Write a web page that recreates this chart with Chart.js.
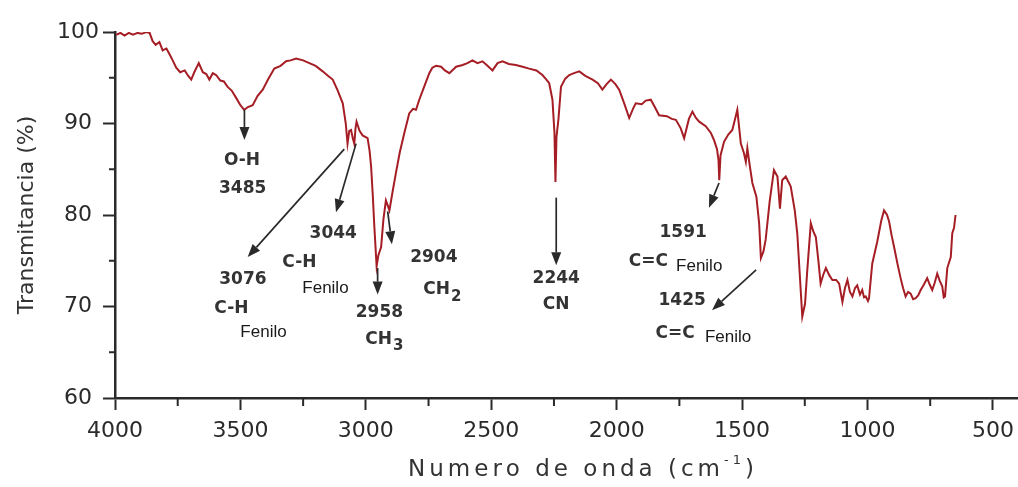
<!DOCTYPE html>
<html lang="es">
<head>
<meta charset="UTF-8">
<script src="https://cdn.jsdelivr.net/npm/chart.js"></script>
<title>Espectro IR</title>
<style>
  html, body { margin: 0; padding: 0; background: #fff; }
  #wrap { width: 1018px; height: 487px; }
</style>
</head>
<body>
<div id="wrap"><canvas id="irChart"></canvas></div>
<script>
// espectro (cm-1, %T)
const wavenumber = [3995, 3978, 3962, 3945, 3928, 3910, 3893, 3875, 3862, 3850, 3838, 3823, 3810, 3795, 3783, 3770, 3756, 3740, 3722, 3708,
  3696, 3684, 3666, 3650, 3636, 3624, 3610, 3597, 3580, 3566, 3551, 3535, 3517, 3500, 3485, 3470, 3451, 3432, 3411, 3390,
  3365, 3340, 3318, 3300, 3278, 3250, 3225, 3200, 3172, 3150, 3132, 3112, 3092, 3080, 3073, 3066, 3059, 3052, 3046, 3041,
  3037, 3025, 3013, 2993, 2985, 2979, 2972, 2966, 2957, 2950, 2939, 2930, 2920, 2912, 2906, 2893, 2880, 2865, 2847, 2827,
  2812, 2800, 2787, 2765, 2747, 2735, 2720, 2700, 2685, 2667, 2640, 2614, 2595, 2575, 2555, 2535, 2515, 2495, 2475, 2455,
  2430, 2402, 2375, 2349, 2320, 2296, 2280, 2269, 2256, 2248, 2244, 2240, 2232, 2222, 2205, 2189, 2170, 2149, 2125, 2096,
  2075, 2057, 2040, 2023, 2005, 1990, 1970, 1950, 1935, 1924, 1900, 1884, 1864, 1848, 1831, 1800, 1780, 1764, 1745, 1731,
  1712, 1698, 1684, 1671, 1645, 1625, 1612, 1600, 1594, 1591, 1586, 1572, 1555, 1539, 1528, 1519, 1505, 1493, 1485, 1479,
  1470, 1459, 1443, 1432, 1425, 1415, 1406, 1390, 1373, 1359, 1349, 1340, 1326, 1306, 1290, 1280, 1270, 1260, 1249, 1240,
  1226, 1216, 1206, 1195, 1187, 1176, 1166, 1152, 1140, 1125, 1113, 1106, 1100, 1090, 1080, 1070, 1060, 1050, 1041, 1030,
  1021, 1014, 1007, 998, 994, 981, 970, 961, 945, 934, 922, 914, 904, 894, 880, 868, 858, 848, 838, 828,
  818, 808, 798, 788, 775, 762, 752, 742, 732, 722, 712, 702, 696, 691, 682, 668, 662, 655, 649];
const transmittance = [99.7, 99.9, 99.6, 99.9, 99.7, 99.9, 99.8, 100.0, 99.9, 99.0, 98.6, 98.9, 98.0, 98.2, 97.6, 96.9, 96.1, 95.6, 95.8, 95.2,
  94.8, 95.6, 96.6, 95.6, 95.4, 94.8, 95.5, 95.3, 94.7, 94.6, 94.0, 93.6, 92.8, 92.0, 91.5, 91.8, 92.0, 93.0, 93.7, 94.8,
  96.0, 96.3, 96.8, 96.9, 97.1, 96.9, 96.6, 96.3, 95.7, 95.2, 94.8, 93.6, 92.2, 90.0, 87.8, 89.2, 89.3, 88.4, 87.8, 89.5,
  90.2, 89.2, 88.7, 88.4, 87.0, 85.3, 82.0, 78.7, 74.4, 75.6, 76.5, 79.5, 81.6, 81.0, 80.5, 82.6, 84.6, 86.8, 88.9, 91.1,
  91.6, 91.5, 92.6, 94.2, 95.5, 96.1, 96.3, 96.2, 95.8, 95.5, 96.2, 96.4, 96.6, 96.9, 96.6, 96.8, 96.3, 95.8, 96.6, 96.8,
  96.5, 96.4, 96.2, 96.0, 95.8, 95.3, 94.8, 94.4, 92.6, 89.0, 83.6, 88.5, 90.5, 94.0, 94.9, 95.3, 95.5, 95.7, 95.2, 94.8,
  94.4, 93.7, 94.3, 94.8, 94.3, 93.7, 92.2, 90.6, 91.6, 92.2, 92.1, 92.5, 92.6, 91.8, 90.9, 90.8, 90.5, 90.4, 89.5, 88.4,
  90.5, 91.3, 90.6, 90.2, 89.7, 89.0, 88.2, 87.2, 86.0, 83.8, 86.5, 88.0, 88.8, 89.3, 90.5, 91.5, 87.8, 86.8, 85.8, 87.3,
  85.5, 83.5, 82.0, 79.1, 75.3, 76.0, 77.3, 81.5, 84.9, 84.2, 80.7, 83.8, 84.2, 83.1, 80.5, 78.0, 73.5, 68.9, 70.3, 74.0,
  79.1, 78.2, 77.6, 74.8, 72.5, 73.5, 74.2, 73.4, 72.9, 72.9, 72.5, 71.4, 70.5, 72.0, 72.9, 71.6, 71.1, 72.0, 72.3, 71.3,
  71.8, 71.0, 71.1, 70.6, 70.9, 74.7, 76.0, 77.1, 79.4, 80.5, 80.0, 79.3, 77.8, 76.5, 74.6, 73.1, 72.0, 71.1, 71.6, 71.4,
  70.8, 70.9, 71.2, 71.8, 72.4, 73.1, 72.4, 71.8, 72.6, 73.6, 72.8, 72.2, 71.0, 71.1, 74.2, 75.4, 78.0, 78.6, 80.0];

const xTicks = [4000, 3500, 3000, 2500, 2000, 1500, 1000, 500];
const xMinor = [3750, 3250, 2750, 2250, 1750, 1250, 750];
const yTicks = [60, 70, 80, 90, 100];
const yMinor = [65, 75, 85, 95];

// flechas: [desde cm-1, desde %T, hasta cm-1, hasta %T]
const peakArrows = [
  [3484, 91.5, 3484, 88.2],
  [3086, 87.2, 3471, 75.4],
  [3039, 87.8, 3119, 80.3],
  [2953, 74.2, 2953, 71.3],
  [2913, 80.4, 2896, 76.8],
  [2241, 81.9, 2241, 74.5],
  [1592, 83.5, 1632, 80.8],
  [1444, 74.0, 1620, 69.6]
];
// etiquetas: texto, subindice, cm-1, %T, estilo
const peakLabels = [
  ['O-H', '', 3494, 86.0, 'b'],
  ['3485', '', 3491, 82.9, 'b'],
  ['3076', '', 3490, 72.9, 'b'],
  ['C-H', '', 3536, 69.8, 'b'],
  ['Fenilo', '', 3408, 67.2, 'r'],
  ['3044', '', 3130, 78.0, 'b'],
  ['C-H', '', 3265, 74.8, 'b'],
  ['Fenilo', '', 3161, 72.0, 'r'],
  ['2958', '', 2946, 69.3, 'b'],
  ['CH', '3', 2926, 66.4, 'b'],
  ['2904', '', 2729, 75.3, 'b'],
  ['CH', '2', 2695, 71.8, 'b'],
  ['2244', '', 2241, 73.0, 'b'],
  ['CN', '', 2241, 70.2, 'b'],
  ['1591', '', 1735, 78.1, 'b'],
  ['C=C', '', 1874, 74.9, 'b'],
  ['Fenilo', '', 1671, 74.4, 'r'],
  ['1425', '', 1739, 70.7, 'b'],
  ['C=C', '', 1767, 67.0, 'b'],
  ['Fenilo', '', 1556, 66.6, 'r']
];

const ink = '#2a2a2a';
const boldFont = 'bold 17px "DejaVu Sans"';
const subFont = 'bold 15px "DejaVu Sans"';
const thinFont = '17px "Liberation Sans"';

const spectrum = wavenumber.map((w, i) => ({ x: w, y: transmittance[i] }));

const extras = {
  id: 'extras',
  afterDraw(chart) {
    const { ctx, scales: { x, y } } = chart;
    ctx.save();
    ctx.strokeStyle = ink;
    ctx.fillStyle = ink;

    // minor ticks
    ctx.lineWidth = 2;
    ctx.beginPath();
    xMinor.forEach(v => {
      const px = x.getPixelForValue(v);
      ctx.moveTo(px, y.bottom); ctx.lineTo(px, y.bottom + 8);
    });
    yMinor.forEach(v => {
      const py = y.getPixelForValue(v);
      ctx.moveTo(x.left, py); ctx.lineTo(x.left - 6, py);
    });
    ctx.stroke();

    // arrows
    ctx.lineWidth = 1.7;
    peakArrows.forEach(a => {
      const x1 = x.getPixelForValue(a[0]), y1 = y.getPixelForValue(a[1]);
      const x2 = x.getPixelForValue(a[2]), y2 = y.getPixelForValue(a[3]);
      const ang = Math.atan2(y2 - y1, x2 - x1);
      const head = 13, half = 5;
      const bx = x2 - head * Math.cos(ang), by = y2 - head * Math.sin(ang);
      ctx.beginPath(); ctx.moveTo(x1, y1); ctx.lineTo(bx, by); ctx.stroke();
      ctx.beginPath();
      ctx.moveTo(x2, y2);
      ctx.lineTo(bx + half * Math.sin(ang), by - half * Math.cos(ang));
      ctx.lineTo(bx - half * Math.sin(ang), by + half * Math.cos(ang));
      ctx.closePath(); ctx.fill();
    });

    // labels
    ctx.textBaseline = 'middle';
    ctx.textAlign = 'left';
    peakLabels.forEach(l => {
      const [txt, sub, wn, tr, style] = l;
      const cx = x.getPixelForValue(wn), cy = y.getPixelForValue(tr);
      ctx.font = style === 'b' ? boldFont : thinFont;
      const w1 = ctx.measureText(txt).width;
      let w2 = 0;
      if (sub) { ctx.font = subFont; w2 = ctx.measureText(sub).width + 1; }
      const x0 = cx - (w1 + w2) / 2;
      ctx.font = style === 'b' ? boldFont : thinFont;
      ctx.fillStyle = style === 'b' ? '#333' : '#1a1a1a';
      ctx.fillText(txt, x0, cy);
      if (sub) { ctx.font = subFont; ctx.fillText(sub, x0 + w1 + 1, cy + 7); }
    });

    // x title with spaced letters and superscript
    const parts = [['Numero de onda (cm', '23px "DejaVu Sans"', 0], ['-1', '13px "DejaVu Sans"', -9], [')', '23px "DejaVu Sans"', 0]];
    const gap = 4;
    let total = 0;
    parts.forEach(p => { ctx.font = p[1]; for (const ch of p[0]) total += ctx.measureText(ch).width + gap; });
    let px = 583 - total / 2;
    const ty = 470;
    ctx.fillStyle = '#333';
    parts.forEach(p => {
      ctx.font = p[1];
      for (const ch of p[0]) { ctx.fillText(ch, px, ty + p[2]); px += ctx.measureText(ch).width + gap; }
    });
    ctx.restore();
  }
};

new Chart(document.getElementById('irChart'), {
  type: 'line',
  data: {
    datasets: [{
      data: spectrum,
      borderColor: '#a61e25',
      borderWidth: 2,
      pointRadius: 0,
      tension: 0,
      fill: false
    }]
  },
  options: {
    responsive: true,
    maintainAspectRatio: false,
    animation: false,
    layout: { padding: { top: 32, right: 0, left: 0, bottom: 0 } },
    plugins: { legend: { display: false }, tooltip: { enabled: false } },
    scales: {
      x: {
        type: 'linear',
        reverse: true,
        min: 400,
        max: 4000,
        afterBuildTicks: s => { s.ticks = xTicks.map(v => ({ value: v })); },
        afterFit: s => { s.height = 89; s.paddingLeft = 0; s.paddingRight = 0; },
        border: { color: ink, width: 2.5 },
        grid: { drawOnChartArea: false, drawTicks: true, tickLength: 12, tickWidth: 2, tickColor: ink },
        ticks: { color: '#2a2a2a', padding: 8, maxRotation: 0, font: { family: 'DejaVu Sans', size: 22 }, callback: v => String(v) }
      },
      y: {
        min: 60,
        max: 100,
        afterBuildTicks: s => { s.ticks = yTicks.map(v => ({ value: v })); },
        afterFit: s => { s.width = 115; },
        border: { color: ink, width: 2.5 },
        grid: { drawOnChartArea: false, drawTicks: true, tickLength: 12, tickWidth: 2, tickColor: ink },
        ticks: { color: '#2a2a2a', padding: 4, crossAlign: 'center', font: { family: 'DejaVu Sans', size: 22 } },
        title: {
          display: true,
          text: 'Transmitancia (%)',
          color: '#333',
          padding: { top: 14, bottom: 0 },
          font: { family: 'DejaVu Sans', size: 22 }
        }
      }
    }
  },
  plugins: [extras]
});
</script>
</body>
</html>
